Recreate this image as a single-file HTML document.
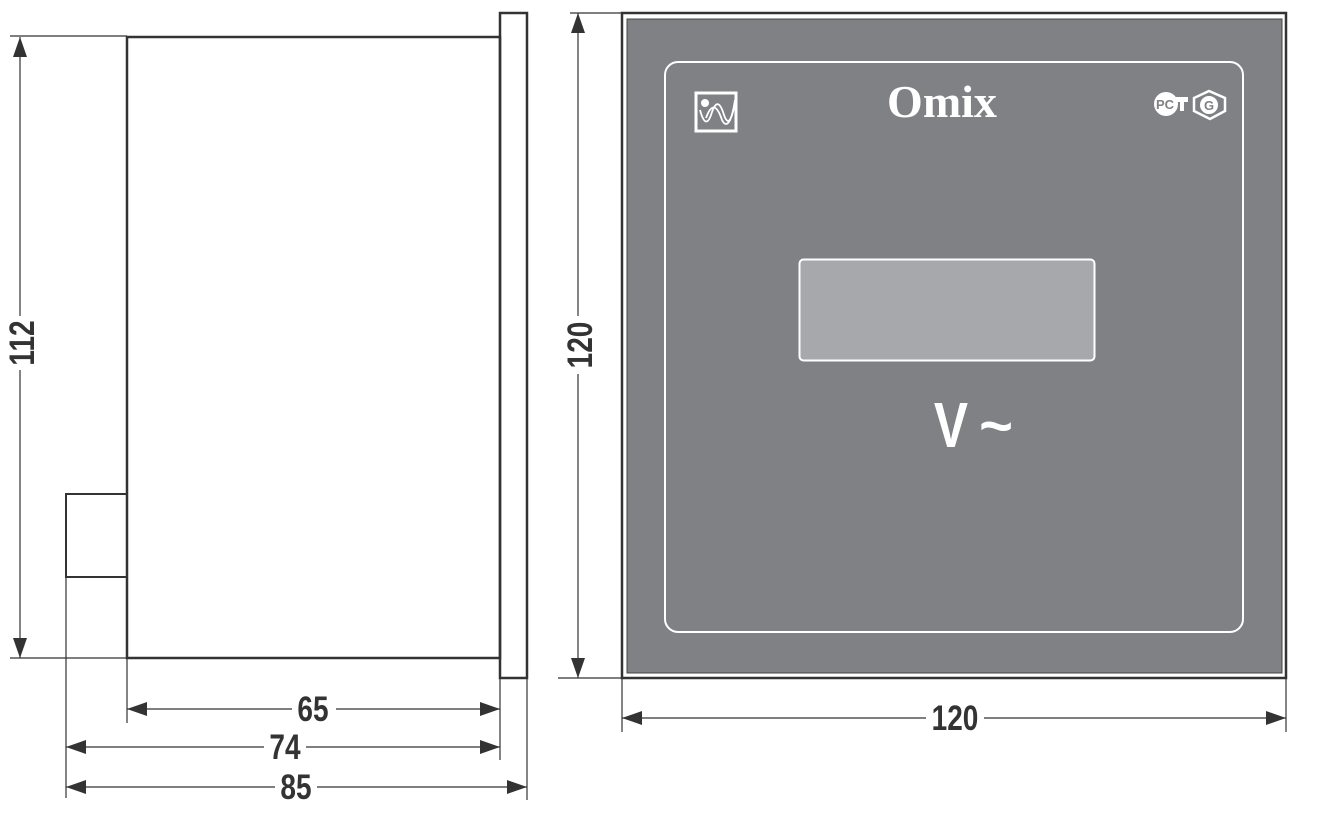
<!DOCTYPE html>
<html><head><meta charset="utf-8"><style>
html,body{margin:0;padding:0;background:#fff;}
svg{display:block;}
.d{font-family:"Liberation Sans",sans-serif;font-weight:bold;font-size:35px;fill:#333;}
</style></head><body>
<svg width="1326" height="816" viewBox="0 0 1326 816" xmlns="http://www.w3.org/2000/svg">
<defs>
<marker id="a" viewBox="0 0 20 14" refX="20" refY="7" markerWidth="20" markerHeight="14" markerUnits="userSpaceOnUse" orient="auto-start-reverse"><path d="M0,0 L20,7 L0,14 Z" fill="#333"/></marker>
</defs>
<g stroke="#333" fill="none">
<rect x="127" y="37" width="373" height="621" stroke-width="2.5"/>
<rect x="500" y="13" width="27" height="665" stroke-width="2.5"/>
<rect x="66" y="494" width="61" height="83" stroke-width="2"/>
<line x1="10" y1="36" x2="127" y2="36" stroke-width="1.2"/>
<line x1="10" y1="658" x2="127" y2="658" stroke-width="1.2"/>
<line x1="20" y1="37" x2="20" y2="658" stroke-width="1.2" marker-start="url(#a)" marker-end="url(#a)"/>
<line x1="127" y1="658" x2="127" y2="723" stroke-width="1.2"/>
<line x1="66" y1="577" x2="66" y2="798" stroke-width="1.2"/>
<line x1="500" y1="678" x2="500" y2="760" stroke-width="1.2"/>
<line x1="527" y1="678" x2="527" y2="800" stroke-width="1.2"/>
<line x1="127" y1="709" x2="500" y2="709" stroke-width="1.2" marker-start="url(#a)" marker-end="url(#a)"/>
<line x1="66" y1="747" x2="500" y2="747" stroke-width="1.2" marker-start="url(#a)" marker-end="url(#a)"/>
<line x1="66" y1="787" x2="527" y2="787" stroke-width="1.2" marker-start="url(#a)" marker-end="url(#a)"/>
<line x1="570" y1="13" x2="622" y2="13" stroke-width="1.2"/>
<line x1="558" y1="678" x2="622" y2="678" stroke-width="1.2"/>
<line x1="578" y1="13" x2="578" y2="678" stroke-width="1.2" marker-start="url(#a)" marker-end="url(#a)"/>
<line x1="622" y1="678" x2="622" y2="732" stroke-width="1.2"/>
<line x1="1286" y1="678" x2="1286" y2="732" stroke-width="1.2"/>
<line x1="622" y1="718" x2="1286" y2="718" stroke-width="1.2" marker-start="url(#a)" marker-end="url(#a)"/>
</g>
<rect x="622" y="13" width="664" height="665" fill="#fff" stroke="#333" stroke-width="2.5"/>
<rect x="627" y="19" width="655" height="654" fill="#808184" stroke="#444" stroke-width="1"/>
<rect x="665" y="62" width="578" height="570" rx="13" fill="none" stroke="#fff" stroke-width="2"/>
<rect x="799.5" y="259.5" width="295" height="101" rx="4" fill="#a7a8ab" stroke="#fff" stroke-width="2"/>
<text x="942" y="117" text-anchor="middle" font-family="Liberation Serif,serif" font-weight="bold" font-size="46" fill="#fff">Omix</text>
<text x="0" y="0" text-anchor="middle" font-family="Liberation Sans,sans-serif" font-weight="bold" font-size="64" fill="#fff" transform="translate(951 447) scale(0.8 1)">V</text>
<text x="996" y="446" text-anchor="middle" font-family="Liberation Sans,sans-serif" font-weight="bold" font-size="58" fill="#fff">~</text>
<rect x="696" y="93" width="40" height="38" fill="none" stroke="#fff" stroke-width="3"/>
<circle cx="705" cy="103" r="4" fill="#fff"/>
<path d="M700,110 Q706,132 712,112 Q718,95 724,115 Q730,132 735,100 M706,118 Q714,96 722,120 Q728,132 734,108" stroke="#fff" stroke-width="1.8" fill="none"/>
<circle cx="1166" cy="104" r="12" fill="#fff"/>
<text x="1165" y="109" text-anchor="middle" font-family="Liberation Sans,sans-serif" font-weight="bold" font-size="13" fill="#808184">PC</text>
<path d="M1176,97 h12 v5 h-4 v9 h-4 v-9 h-4z" fill="#fff"/>
<path d="M1209,91 L1225,98 L1225,111 L1210,119 L1194,111 L1194,98 Z" fill="none" stroke="#fff" stroke-width="2.5"/>
<circle cx="1209" cy="105" r="9" fill="#fff"/>
<text x="1209" y="110" text-anchor="middle" font-family="Liberation Sans,sans-serif" font-weight="bold" font-size="13" fill="#808184">G</text>
<rect x="292" y="694" width="44" height="30" fill="#fff"/>
<text class="d" x="0" y="0" text-anchor="middle" transform="translate(313 721) scale(0.8 1)">65</text>
<rect x="264" y="732" width="42" height="30" fill="#fff"/>
<text class="d" x="0" y="0" text-anchor="middle" transform="translate(285 759) scale(0.8 1)">74</text>
<rect x="275" y="772" width="42" height="30" fill="#fff"/>
<text class="d" x="0" y="0" text-anchor="middle" transform="translate(296 799) scale(0.8 1)">85</text>
<rect x="926" y="703" width="58" height="30" fill="#fff"/>
<text class="d" x="0" y="0" text-anchor="middle" transform="translate(955 730) scale(0.8 1)">120</text>
<rect x="8" y="316" width="28" height="54" fill="#fff"/>
<text class="d" x="0" y="0" text-anchor="middle" transform="translate(34 343) rotate(-90) scale(0.8 1)">112</text>
<rect x="565" y="316" width="28" height="58" fill="#fff"/>
<text class="d" x="0" y="0" text-anchor="middle" transform="translate(592 345) rotate(-90) scale(0.8 1)">120</text>
</svg>
</body></html>
